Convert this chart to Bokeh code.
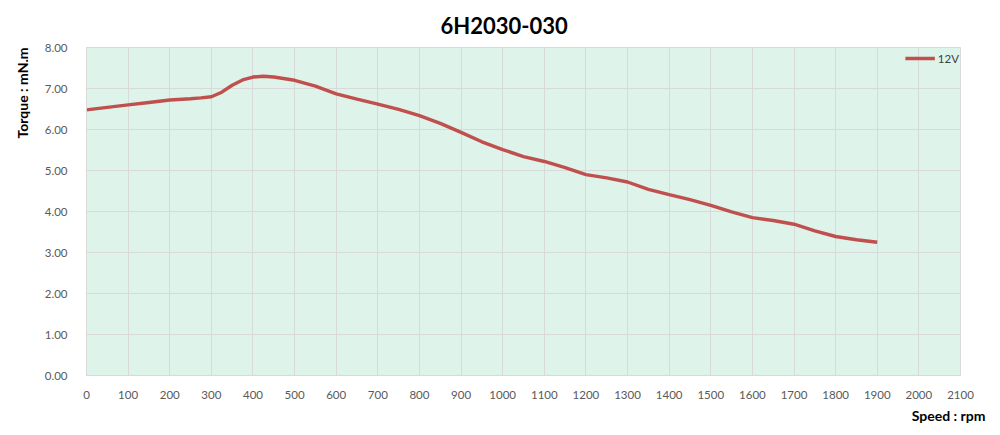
from bokeh.plotting import figure
from bokeh.models import Range1d, FixedTicker, NumeralTickFormatter, Legend, LegendItem, Title
from bokeh.embed import file_html
from bokeh.resources import INLINE

speed = [0, 50, 100, 150, 200, 250, 275, 300, 325, 350, 375, 400, 425, 450, 500, 550, 600, 650, 700, 750, 800,
         850, 900, 950, 1000, 1050, 1100, 1150, 1200, 1250, 1300, 1350, 1400, 1450, 1500,
         1550, 1600, 1650, 1700, 1750, 1800, 1850, 1900]
torque = [6.48, 6.54, 6.60, 6.66, 6.72, 6.75, 6.77, 6.80, 6.91, 7.08, 7.21, 7.28, 7.30, 7.28, 7.20, 7.06, 6.87, 6.74, 6.62, 6.49, 6.34,
          6.15, 5.93, 5.70, 5.51, 5.34, 5.22, 5.07, 4.90, 4.82, 4.72, 4.54, 4.41, 4.29, 4.15,
          3.99, 3.85, 3.78, 3.69, 3.53, 3.39, 3.31, 3.25]
series_name = "12V"
title_text = "6H2030-030"
x_label = "Speed : rpm"
y_label = "Torque : mN.m"
x_ticks = list(range(0, 2101, 100))
y_ticks = [0, 1, 2, 3, 4, 5, 6, 7, 8]

FONT = "Lato"

p = figure(width=1000, height=435, output_backend="svg", toolbar_location=None,
           x_range=Range1d(0, 2100), y_range=Range1d(0, 8), title=title_text)
p.min_border_left = 86
p.min_border_right = 40
p.min_border_top = 46
p.min_border_bottom = 60
p.background_fill_color = "#DEF3EA"
p.border_fill_color = "white"
p.outline_line_color = "#D9D9D9"

p.title.align = "left"
p.title.offset = 354
p.title.standoff = 18
p.title.text_font = FONT
p.title.text_font_style = "bold"
p.title.text_font_size = "22px"
p.title.text_color = "black"

for ax in (p.xaxis[0], p.yaxis[0]):
    ax.major_tick_line_color = None
    ax.minor_tick_line_color = None
    ax.axis_line_color = "#D9D9D9"
    ax.major_label_text_color = "#595959"
    ax.major_label_text_font = FONT
    ax.major_label_text_font_size = "11.5px"

p.xaxis.ticker = FixedTicker(ticks=x_ticks)
p.yaxis.ticker = FixedTicker(ticks=y_ticks)
p.yaxis.formatter = NumeralTickFormatter(format="0.00")
p.xaxis.major_label_standoff = 9
p.yaxis.major_label_standoff = 13

p.xgrid.ticker = FixedTicker(ticks=x_ticks)
p.ygrid.ticker = FixedTicker(ticks=y_ticks)
p.xgrid.grid_line_color = "#D9D9D9"
p.ygrid.grid_line_color = "#D9D9D9"

r = p.line(speed, torque, line_color="#C0504D", line_width=3.4)

legend = Legend(items=[LegendItem(label=series_name, renderers=[r])], location="top_right")
legend.glyph_width = 30
legend.label_standoff = 3
legend.padding = 0
legend.margin = 1
legend.border_line_color = None
legend.background_fill_alpha = 0
legend.label_text_font = FONT
legend.label_text_font_size = "11.5px"
legend.label_text_color = "#404040"
p.add_layout(legend, "center")

p.add_layout(Title(text=y_label, align="right", offset=0, standoff=22,
                   text_font=FONT, text_font_style="bold", text_font_size="14px",
                   text_color="black"), "left")
p.add_layout(Title(text=x_label, align="right", offset=-25, standoff=6,
                   text_font=FONT, text_font_style="bold", text_font_size="14px",
                   text_color="black"), "below")

open("out.html", "w").write(file_html(p, INLINE))
